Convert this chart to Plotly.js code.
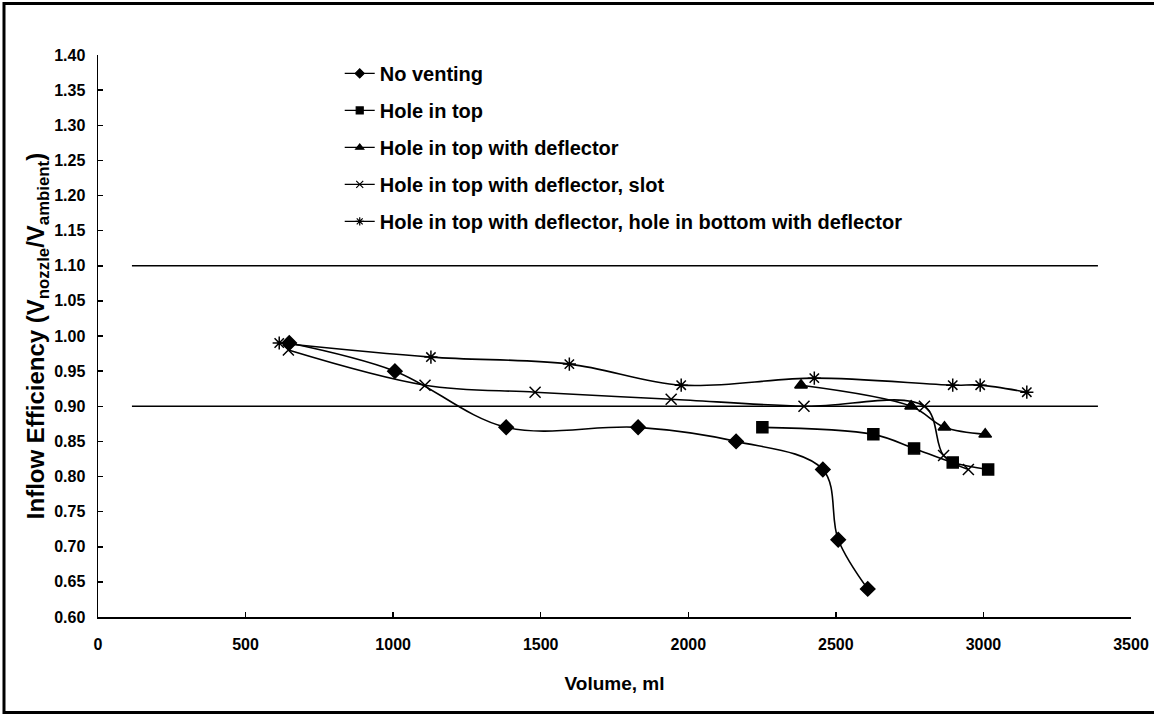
<!DOCTYPE html>
<html>
<head>
<meta charset="utf-8">
<script src="https://cdn.plot.ly/plotly-3.0.1.min.js"></script>
<style>
  html, body { margin: 0; padding: 0; background: #ffffff; }
  #chart { width: 1154px; height: 717px; }
</style>
</head>
<body>
<div id="chart"></div>
<script>
// Volume (ml) and inflow efficiency for each venting configuration
const noVentX = [648, 1006, 1383, 1830, 2162, 2456, 2508, 2608];
const noVentY = [0.99, 0.95, 0.87, 0.87, 0.85, 0.81, 0.71, 0.64];

const holeTopX = [2251, 2627, 2765, 2896, 3016];
const holeTopY = [0.87, 0.86, 0.84, 0.82, 0.81];

const deflX = [2382, 2755, 2868, 3006];
const deflY = [0.93, 0.90, 0.87, 0.86];

const slotX = [645, 1108, 1481, 1942, 2392, 2800, 2865, 2949];
const slotY = [0.98, 0.93, 0.92, 0.91, 0.90, 0.90, 0.83, 0.81];

const bottomX = [614, 1128, 1597, 1976, 2427, 2896, 2989, 3147];
const bottomY = [0.99, 0.97, 0.96, 0.93, 0.94, 0.93, 0.93, 0.92];

// Target band limits
const bandX = [115, 3388];
const upperLimit = [1.10, 1.10];
const lowerLimit = [0.90, 0.90];

const seriesNames = [
  'No venting',
  'Hole in top',
  'Hole in top with deflector',
  'Hole in top with deflector, slot',
  'Hole in top with deflector, hole in bottom with deflector'
];
const seriesSymbols = ['diamond', 'square', 'triangle-up', 'x-thin-open', 'asterisk-open'];

const FONT = 'Liberation Sans, Arial, Helvetica, sans-serif';

function series(x, y, i) {
  return {
    x: x, y: y, name: seriesNames[i], type: 'scatter', mode: 'lines+markers',
    showlegend: false,
    line: { color: '#000000', width: 1.6, shape: 'spline', smoothing: 1 },
    marker: { symbol: seriesSymbols[i], size: 11, color: '#000000',
              line: { color: '#000000', width: 1.5 } },
    hoverinfo: 'x+y+name'
  };
}

// Key entries: same symbols, drawn smaller for the legend
function keyEntry(i) {
  return {
    x: [null], y: [null], name: seriesNames[i], type: 'scatter', mode: 'lines+markers',
    legendgroup: 'g' + i,
    line: { color: '#000000', width: 1.2 },
    marker: { symbol: seriesSymbols[i], size: 7, color: '#000000',
              line: { color: '#000000', width: 1.2 } },
    hoverinfo: 'skip'
  };
}

function band(y) {
  return {
    x: bandX, y: y, type: 'scatter', mode: 'lines', showlegend: false,
    line: { color: '#000000', width: 1.6 }, hoverinfo: 'skip'
  };
}

const traces = [
  band(upperLimit),
  band(lowerLimit),
  series(noVentX, noVentY, 0),
  series(holeTopX, holeTopY, 1),
  series(deflX, deflY, 2),
  series(slotX, slotY, 3),
  series(bottomX, bottomY, 4),
  keyEntry(0), keyEntry(1), keyEntry(2), keyEntry(3), keyEntry(4)
];

const layout = {
  width: 1154,
  height: 717,
  paper_bgcolor: '#ffffff',
  plot_bgcolor: '#ffffff',
  margin: { l: 98, r: 23, t: 55, b: 99.5, pad: 0 },
  font: { family: FONT, color: '#000000', size: 16, weight: 700 },
  showlegend: true,
  legend: {
    x: 0.234, y: 1.002, xanchor: 'left', yanchor: 'top',
    bgcolor: 'rgba(0,0,0,0)', borderwidth: 0,
    font: { family: FONT, size: 20, color: '#000000', weight: 700 },
    traceorder: 'grouped', tracegroupgap: 8,
    itemwidth: 30
  },
  xaxis: {
    range: [0, 3500], dtick: 500, tick0: 0,
    showgrid: false, zeroline: false,
    showline: true, linecolor: '#000000', linewidth: 2,
    ticks: 'inside', ticklen: 5, tickwidth: 1.5, tickcolor: '#000000',
    ticklabelstandoff: 12,
    tickfont: { family: FONT, size: 16, color: '#000000', weight: 700 },
    title: { text: 'Volume, ml', standoff: 24,
             font: { family: FONT, size: 19, color: '#000000', weight: 700 } }
  },
  yaxis: {
    range: [0.6, 1.4], dtick: 0.05, tick0: 0.6, tickformat: '.2f',
    showgrid: false, zeroline: false,
    showline: true, linecolor: '#000000', linewidth: 1.5,
    ticks: 'inside', ticklen: 5, tickwidth: 1.5, tickcolor: '#000000',
    ticklabelstandoff: 8,
    tickfont: { family: FONT, size: 16, color: '#000000', weight: 700 },
    title: { text: 'Inflow Efficiency (V<sub>nozzle</sub>/V<sub>ambient</sub>)', standoff: 3,
             font: { family: FONT, size: 24, color: '#000000', weight: 700 } }
  },
  shapes: [
    // outer frame around the whole figure
    { type: 'rect', xref: 'paper', yref: 'paper',
      x0: -0.0910, x1: 1.028, y0: -0.1698, y1: 1.0916,
      line: { color: '#000000', width: 3 }, fillcolor: 'rgba(0,0,0,0)' }
  ]
};

Plotly.newPlot('chart', traces, layout, { displayModeBar: false, staticPlot: true });
</script>
</body>
</html>
